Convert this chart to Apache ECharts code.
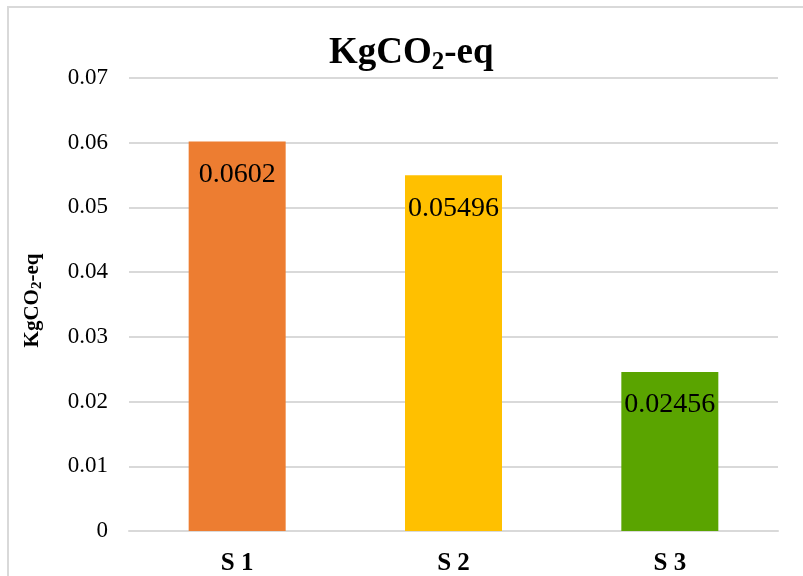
<!DOCTYPE html>
<html>
<head>
<meta charset="utf-8">
<script src="https://cdn.jsdelivr.net/npm/echarts@6/dist/echarts.min.js"></script>
<style>
  html, body { margin: 0; padding: 0; background: #fff; }
  #chart { width: 803px; height: 576px; }
</style>
</head>
<body>
<div id="chart"></div>
<script>
// Scenario emissions in kg CO2-equivalent
const categories = ['S 1', 'S 2', 'S 3'];
const emissions = [0.0602, 0.05496, 0.02456];
const barColors = ['#ED7D31', '#FFC000', '#5AA400'];
const yTickLabels = ['0', '0.01', '0.02', '0.03', '0.04', '0.05', '0.06', '0.07'];

const serif = "'Liberation Serif', 'Times New Roman', serif";

const chart = echarts.init(document.getElementById('chart'), null, { renderer: 'canvas' });

chart.setOption({
  backgroundColor: '#ffffff',
  animation: false,
  graphic: [{
    type: 'rect',
    shape: { x: 8, y: 7, width: 900, height: 700 },
    style: { fill: 'none', stroke: '#D9D9D9', lineWidth: 2 },
    silent: true
  }],
  title: {
    text: '{a|KgCO}{b|2}{a|-eq}',
    left: 324,
    top: 26,
    textStyle: {
      rich: {
        a: { fontFamily: serif, fontWeight: 'bold', fontSize: 37, lineHeight: 44, color: '#000' },
        b: { fontFamily: serif, fontWeight: 'bold', fontSize: 25, lineHeight: 25, verticalAlign: 'bottom', color: '#000' }
      }
    }
  },
  grid: { left: 129, right: 25, top: 78, bottom: 44 },
  xAxis: {
    type: 'category',
    data: categories,
    axisLine: { lineStyle: { color: '#D9D9D9', width: 2 } },
    axisTick: { show: false },
    axisLabel: {
      margin: 20,
      fontFamily: serif,
      fontWeight: 'bold',
      fontSize: 25,
      color: '#000'
    }
  },
  yAxis: {
    type: 'value',
    min: 0,
    max: 0.07,
    interval: 0.01,
    name: '{a|KgCO}{b|2}{a|-eq}',
    nameLocation: 'middle',
    nameGap: 84,
    nameRotate: 90,
    nameTextStyle: {
      padding: [0, 0, 0, 8],
      rich: {
        a: { fontFamily: serif, fontWeight: 'bold', fontSize: 21, lineHeight: 24, color: '#000' },
        b: { fontFamily: serif, fontWeight: 'bold', fontSize: 15, lineHeight: 15, verticalAlign: 'bottom', color: '#000' }
      }
    },
    axisLine: { show: false },
    axisTick: { show: false },
    splitLine: { lineStyle: { color: '#D9D9D9', width: 2 } },
    axisLabel: {
      margin: 21,
      fontFamily: serif,
      fontSize: 23,
      color: '#000',
      formatter: function (v) { return yTickLabels[Math.round(v / 0.01)]; }
    }
  },
  series: [{
    type: 'bar',
    barWidth: 97,
    data: emissions.map(function (v, i) {
      return { value: v, itemStyle: { color: barColors[i] } };
    }),
    label: {
      show: true,
      position: 'insideTop',
      distance: 19,
      fontFamily: serif,
      fontSize: 28,
      color: '#000'
    }
  }]
});
</script>
</body>
</html>
